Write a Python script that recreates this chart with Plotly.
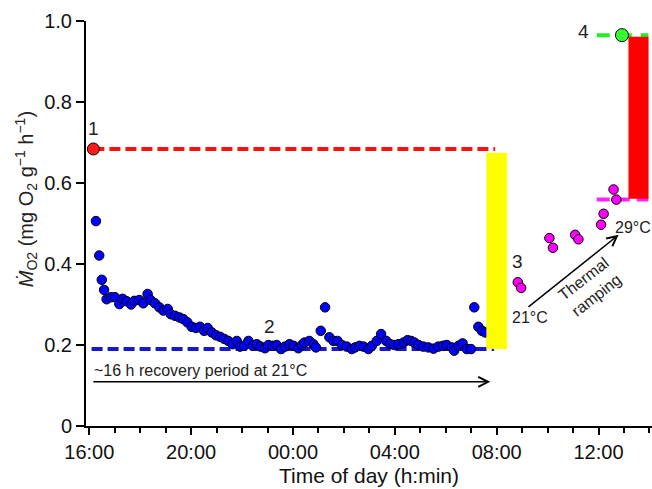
import plotly.graph_objects as go

# Time axis: hours elapsed since 16:00
tick_hours = [0, 4, 8, 12, 16, 20]
tick_labels = ["16:00", "20:00", "00:00", "04:00", "08:00", "12:00"]
y_ticks = [0, 0.2, 0.4, 0.6, 0.8, 1.0]
y_tick_labels = ["0", "0.2", "0.4", "0.6", "0.8", "1.0"]

# Recovery period at 21 °C (blue)
recovery_h = [0.26, 0.39, 0.49, 0.58, 0.68, 0.85, 1.01, 1.18, 1.31, 1.47, 1.64, 1.77,
              1.96, 2.12, 2.29, 2.41, 2.58, 2.75, 2.91, 3.08, 3.20, 3.37, 3.54, 3.69,
              3.85, 4.02, 4.19, 4.35, 4.51, 4.65, 4.81, 4.98, 5.14, 5.30, 5.46, 5.63,
              5.79, 5.92, 6.08, 6.25, 6.42, 6.58, 6.73, 6.90, 7.03, 7.20, 7.36, 7.53,
              7.69, 7.86, 8.02, 8.21, 8.35, 8.45, 8.64, 8.80, 8.90, 9.09, 9.26, 9.43,
              9.59, 9.75, 9.92, 10.11, 10.31, 10.44, 10.61, 10.77, 10.96, 11.10, 11.29,
              11.46, 11.66, 11.82, 11.98, 12.14, 12.34, 12.50, 12.64, 12.77, 12.93,
              13.12, 13.32, 13.52, 13.71, 13.89, 14.04, 14.24, 14.33, 14.50, 14.66,
              14.83, 14.99, 15.12, 15.28, 15.42, 15.55]
recovery_mo2 = [0.506, 0.421, 0.361, 0.336, 0.313, 0.318, 0.318, 0.301, 0.314, 0.308,
                0.300, 0.309, 0.311, 0.303, 0.326, 0.311, 0.303, 0.293, 0.285, 0.289,
                0.276, 0.272, 0.268, 0.264, 0.256, 0.245, 0.242, 0.245, 0.235, 0.242,
                0.231, 0.224, 0.220, 0.215, 0.210, 0.202, 0.210, 0.196, 0.198, 0.210,
                0.198, 0.202, 0.196, 0.192, 0.200, 0.198, 0.200, 0.190, 0.196, 0.202,
                0.198, 0.192, 0.200, 0.206, 0.210, 0.202, 0.194, 0.235, 0.293, 0.219,
                0.210, 0.210, 0.200, 0.196, 0.190, 0.194, 0.198, 0.196, 0.190, 0.198,
                0.210, 0.227, 0.210, 0.202, 0.200, 0.202, 0.206, 0.212, 0.210, 0.206,
                0.200, 0.196, 0.194, 0.191, 0.196, 0.198, 0.200, 0.194, 0.186, 0.198,
                0.204, 0.190, 0.190, 0.293, 0.245, 0.235, 0.231]

# Thermal ramping 21 -> 29 °C (magenta)
ramp_h = [16.83, 16.96, 18.07, 18.21, 19.08, 19.21, 20.10, 20.20, 20.59, 20.70]
ramp_mo2 = [0.355, 0.341, 0.464, 0.440, 0.472, 0.461, 0.497, 0.524, 0.584, 0.559]

# Key points: 1 = post-exercise peak, 4 = peak after ramping
peak1_h, peak1_mo2 = 0.16, 0.684
peak4_h, peak4_mo2 = 20.92, 0.965

# Reference levels
smr_level = 0.190
ramp_end_level = 0.559
smr_span = [0.09, 15.90]
peak1_span = [0.16, 15.94]
top_span = [19.93, 21.96]

# Scope bars: centre, width, base, top
yellow_bar = dict(x=16.0, w=0.81, base=0.190, top=0.675)
red_bar = dict(x=21.57, w=0.79, base=0.561, top=0.961)

FONT = "Liberation Sans, Arial, sans-serif"
TXT = "#222222"


def rect(bar):
    x0, x1 = bar["x"] - bar["w"] / 2, bar["x"] + bar["w"] / 2
    return [x0, x1, x1, x0, x0], [bar["base"], bar["base"], bar["top"], bar["top"], bar["base"]]


fig = go.Figure()

dash = "11px,5px"
fig.add_trace(go.Scatter(x=peak1_span, y=[peak1_mo2, peak1_mo2], mode="lines",
                         line=dict(color="#FF1010", width=4, dash=dash)))
fig.add_trace(go.Scatter(x=smr_span, y=[smr_level, smr_level], mode="lines",
                         line=dict(color="#1818CC", width=4, dash=dash)))
fig.add_trace(go.Scatter(x=top_span, y=[peak4_mo2, peak4_mo2], mode="lines",
                         line=dict(color="#22EE22", width=4, dash="13px,9px")))
fig.add_trace(go.Scatter(x=top_span, y=[ramp_end_level, ramp_end_level], mode="lines",
                         line=dict(color="#FF22FF", width=4, dash="13px,7px")))

fig.add_trace(go.Scatter(x=recovery_h, y=recovery_mo2, mode="markers",
                         marker=dict(color="#0000FF", size=9.5,
                                     line=dict(color="#000000", width=1))))

yx, yy = rect(yellow_bar)
fig.add_trace(go.Scatter(x=yx, y=yy, mode="lines", fill="toself", fillcolor="#FFFF00",
                         line=dict(width=0, color="#FFFF00")))
rx, ry = rect(red_bar)
fig.add_trace(go.Scatter(x=rx, y=ry, mode="lines", fill="toself", fillcolor="#FF0000",
                         line=dict(width=0, color="#FF0000")))

fig.add_trace(go.Scatter(x=ramp_h, y=ramp_mo2, mode="markers",
                         marker=dict(color="#FF00FF", size=9.5,
                                     line=dict(color="#000000", width=1))))
fig.add_trace(go.Scatter(x=[peak1_h], y=[peak1_mo2], mode="markers",
                         marker=dict(color="#FF1A1A", size=12,
                                     line=dict(color="#000000", width=1))))
fig.add_trace(go.Scatter(x=[peak4_h], y=[peak4_mo2], mode="markers",
                         marker=dict(color="#33FF33", size=13,
                                     line=dict(color="#000000", width=1))))

annotations = [
    dict(x=0.15, y=0.735, text="1", showarrow=False, font=dict(size=19, color=TXT)),
    dict(x=7.06, y=0.246, text="2", showarrow=False, font=dict(size=19, color=TXT)),
    dict(x=16.8, y=0.405, text="3", showarrow=False, font=dict(size=19, color=TXT)),
    dict(x=19.4, y=0.975, text="4", showarrow=False, font=dict(size=19, color=TXT)),
    dict(x=0.1, y=0.136, text="~16 h recovery period at 21°C", showarrow=False,
         xanchor="left", font=dict(size=16, color=TXT)),
    dict(x=15.75, y=0.109, ax=0.1, ay=0.109, axref="x", ayref="y", text="",
         showarrow=True, arrowhead=5, arrowsize=1.3, arrowwidth=1.5, arrowcolor="#000000"),
    dict(x=20.79, y=0.472, ax=17.19, ay=0.291, axref="x", ayref="y", text="",
         showarrow=True, arrowhead=5, arrowsize=1.3, arrowwidth=1.5, arrowcolor="#000000"),
    dict(x=17.3, y=0.267, text="21°C", showarrow=False, font=dict(size=16, color=TXT)),
    dict(x=21.36, y=0.489, text="29°C", showarrow=False, font=dict(size=16, color=TXT)),
    dict(x=19.68, y=0.342, text="Thermal<br>ramping", showarrow=False, textangle=-38,
         font=dict(size=16, color=TXT)),
    # y-axis title, rotated, left of the tick labels
    dict(x=-0.106, y=0.56, xref="paper", yref="paper", xanchor="center", yanchor="middle",
         showarrow=False, textangle=-90,
         text="<i>Ṁ</i><sub>O2</sub> (mg O<sub>2</sub> g<sup>−1</sup> h<sup>−1</sup>)",
         font=dict(size=20, color=TXT)),
]

fig.update_layout(
    width=652, height=489,
    margin=dict(l=86, r=0, t=21, b=63),
    paper_bgcolor="white", plot_bgcolor="white",
    showlegend=False,
    font=dict(family=FONT, color="#111111"),
    annotations=annotations,
    xaxis=dict(range=[-0.13, 22.1], tickvals=tick_hours, ticktext=tick_labels,
               showgrid=False, zeroline=False, showline=True, linecolor="#000000",
               linewidth=2, ticks="outside", ticklen=7, tickwidth=1.5, tickcolor="#000000",
               tickfont=dict(size=20, color="#111111"),
               minor=dict(dtick=1, tick0=0, ticks="outside", ticklen=5, tickwidth=1.5,
                          tickcolor="#000000", showgrid=False),
               title=dict(text="Time of day (h:min)", font=dict(size=21, color="#111111"),
                          standoff=6)),
    yaxis=dict(range=[0, 1.0], tickvals=y_ticks, ticktext=y_tick_labels,
               showgrid=False, zeroline=False, showline=True, linecolor="#000000",
               linewidth=2, ticks="outside", ticklen=8, tickwidth=1.5, tickcolor="#000000",
               tickfont=dict(size=20, color="#111111")),
)

fig.write_html("out.html")
